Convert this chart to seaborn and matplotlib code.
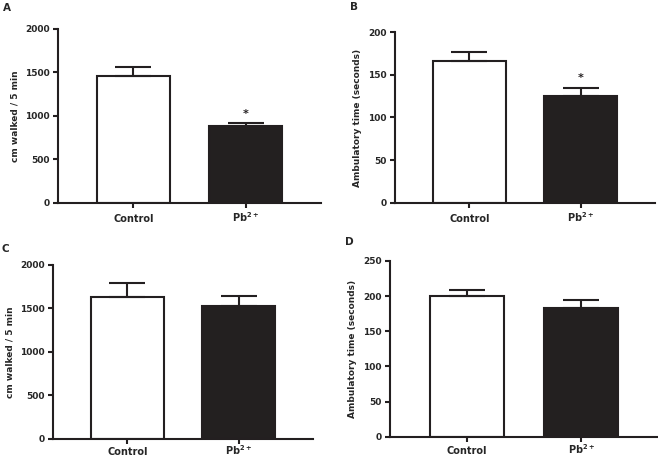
import numpy as np
import pandas as pd
import seaborn as sns
import matplotlib.pyplot as plt

groups = ['Control', 'Pb$^{2+}$']

# panel A / C: distance walked (cm / 5 min), mean and SEM
walk_a = [1460, 889]
walk_a_err = [103, 34]
walk_c = [1629, 1529]
walk_c_err = [164, 111]

# panel B / D: ambulatory time (seconds), mean and SEM
amb_b = [166, 125]
amb_b_err = [11, 10]
amb_d = [200, 183]
amb_d_err = [8.5, 11]

sig_a = [False, True]
sig_b = [False, True]
sig_c = [False, False]
sig_d = [False, False]

sns.set_style('ticks')
plt.rcParams['font.family'] = ['DejaVu Sans']
plt.rcParams['font.weight'] = 'bold'
plt.rcParams['mathtext.default'] = 'regular'

fig = plt.figure(figsize=(6.58, 4.57), dpi=100)
W, H = 658, 457


def px_axes(left, right, bottom, top):
    return fig.add_axes([left / W, 1 - bottom / H, (right - left) / W, (bottom - top) / H])


def panel(ax, means, errs, sig, ymax, step, ylabel, xpad):
    df = pd.DataFrame({'group': groups, 'value': means})
    sns.barplot(data=df, x='group', y='value', hue='group', palette=['white', '#231f20'],
                edgecolor='#231f20', linewidth=1.5, width=0.65, legend=False, ax=ax)
    ax.errorbar(range(len(means)), means, yerr=[[0] * len(errs), errs], fmt='none',
                ecolor='#231f20', elinewidth=1.5, capsize=13, capthick=1.5, zorder=1)
    for i, s in enumerate(sig):
        if s:
            ax.annotate('*', xy=(i, means[i] + errs[i]), xytext=(0, 3), textcoords='offset points',
                        ha='center', va='bottom', fontsize=8, fontweight='bold', color='#231f20')
    ax.set_xlim(-0.67, 1.67)
    ax.set_ylim(0, ymax)
    ax.set_yticks(np.arange(0, ymax + 1, step))
    sns.despine(ax=ax)
    for sp in ['left', 'bottom']:
        ax.spines[sp].set_linewidth(1.5)
        ax.spines[sp].set_color('#231f20')
    ax.tick_params(axis='both', length=3.5, width=1.5, color='#231f20', labelsize=6.5, pad=2.5)
    ax.tick_params(axis='x', labelsize=7, pad=xpad)
    ax.set_xlabel('')
    ax.set_ylabel(ylabel, fontsize=6.5, fontweight='bold', labelpad=4)
    for lab in ax.get_xticklabels():
        lab.set_verticalalignment('baseline')
    for lab in ax.get_xticklabels() + ax.get_yticklabels():
        lab.set_fontweight('bold')
    return ax


axA = px_axes(58, 321, 203, 29)
panel(axA, walk_a, walk_a_err, sig_a, 2000, 500, 'cm walked / 5 min', 10.5)
axB = px_axes(395, 655, 203, 32)
panel(axB, amb_b, amb_b_err, sig_b, 200, 50, 'Ambulatory time (seconds)', 10.5)
axC = px_axes(53, 313, 438.7, 264.7)
panel(axC, walk_c, walk_c_err, sig_c, 2000, 500, 'cm walked / 5 min', 8)
axD = px_axes(390, 658, 436.7, 261)
panel(axD, amb_d, amb_d_err, sig_d, 250, 50, 'Ambulatory time (seconds)', 9)

for letter, x, y in [('A', 3, 3), ('B', 350, 2), ('C', 2, 244), ('D', 345, 237)]:
    fig.text(x / W, 1 - y / H, letter, fontsize=7.5, fontweight='bold', va='top', ha='left')

fig.savefig('out.png', dpi=100)
